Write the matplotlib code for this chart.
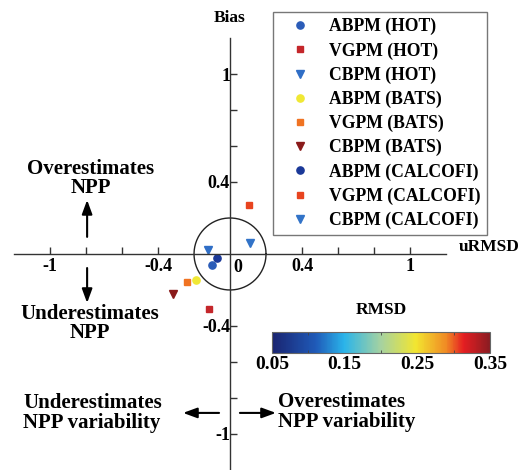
import matplotlib
matplotlib.use('Agg')
import matplotlib.pyplot as plt
import numpy as np
from matplotlib.colors import LinearSegmentedColormap, Normalize
from matplotlib.ticker import FixedLocator, FuncFormatter

plt.rcParams['font.family'] = ['Liberation Serif', 'DejaVu Serif']
plt.rcParams['font.weight'] = 'bold'

# * data (uRMSD, Bias)
labels = ['ABPM (HOT)', 'VGPM (HOT)', 'CBPM (HOT)',
          'ABPM (BATS)', 'VGPM (BATS)', 'CBPM (BATS)',
          'ABPM (CALCOFI)', 'VGPM (CALCOFI)', 'CBPM (CALCOFI)']
urmsd = [-0.098, -0.115, -0.120, -0.190, -0.237, -0.315, -0.074, 0.106, 0.110]
bias = [-0.061, -0.307, 0.020, -0.146, -0.154, -0.222, -0.024, 0.274, 0.060]
markers = ['o', 's', 'v', 'o', 's', 'v', 'o', 's', 'v']
colors = ['#2b5cb8', '#c4262a', '#2f6ec6', '#f0e834', '#f07322', '#8a1a1a',
          '#1a3898', '#e8441f', '#3273c8']

cbar_ticks = [0.05, 0.15, 0.25, 0.35]
x_ticks = [-1, -0.8, -0.6, -0.4, 0.4, 0.6, 0.8, 1]
y_ticks = [-1, -0.8, -0.6, -0.4, 0.4, 0.6, 0.8, 1]
labeled = [-1, -0.4, 0.4, 1]

cmap = LinearSegmentedColormap.from_list('rmsd', [
  (0.0, '#1a2470'), (0.2, '#1f5ab8'), (0.33, '#2ab4ea'), (0.5, '#a6d2a0'),
  (0.66, '#f2e630'), (0.8, '#f08a24'), (0.88, '#e51e22'), (1.0, '#8a1c22')])

fig = plt.figure(figsize=(5.27, 4.70), dpi=100)
ax = fig.add_axes([0, 0, 1, 1])
ax.set_xlim(-1.278, 1.65)
ax.set_ylim(-1.2, 1.411)
ax.set_aspect('equal')

# * axes through origin
for s in ['top', 'right']:
  ax.spines[s].set_visible(False)
ax.spines['left'].set_position('zero')
ax.spines['bottom'].set_position('zero')
ax.spines['left'].set_bounds(-1.2, 1.2)
ax.spines['bottom'].set_bounds(-1.2, 1.2)
for s in ['left', 'bottom']:
  ax.spines[s].set_color('#333333')
  ax.spines[s].set_linewidth(1.0)

ax.xaxis.set_major_locator(FixedLocator(x_ticks))
ax.yaxis.set_major_locator(FixedLocator(y_ticks))
fmt = lambda v, p: ('%g' % v) if round(v, 2) in labeled else ''
ax.xaxis.set_major_formatter(FuncFormatter(fmt))
ax.yaxis.set_major_formatter(FuncFormatter(fmt))
ax.tick_params(direction='in', length=5, width=1, color='#333333', labelsize=13)
ax.tick_params(axis='x', pad=3)
ax.tick_params(axis='y', pad=0)
ax.text(0.045, -0.03, '0', ha='center', va='top', fontsize=13, fontweight='bold')

ax.text(0, 1.31, 'Bias', ha='center', va='center', fontsize=12.5, fontweight='bold')
ax.text(1.27, 0.04, 'uRMSD', ha='left', va='center', fontsize=12.5, fontweight='bold')

# * circle
t = np.linspace(0, 2 * np.pi, 200)
ax.plot(0.2 * np.cos(t), 0.2 * np.sin(t), color='#222222', lw=1.0)

# * points
for i in range(len(labels)):
  ms = 6 if markers[i] == 'v' else (5.2 if markers[i] == 'o' else 4.6)
  ax.plot(urmsd[i], bias[i], marker=markers[i], color=colors[i], ms=ms,
    linestyle='none', label=labels[i])

leg = ax.legend(loc='upper left', bbox_to_anchor=(273 / 527, 1 - 12 / 470),
  bbox_transform=fig.transFigure, frameon=True, fancybox=False,
  prop={'family': 'Liberation Serif', 'weight': 'bold', 'size': 12.7},
  labelspacing=0.39, handletextpad=0.45, borderpad=0.35, handlelength=2.4,
  borderaxespad=0)
leg.get_frame().set_edgecolor('#555555')
leg.get_frame().set_linewidth(1.0)

# * annotations
afs = 15
ax.text(-0.775, 0.42, 'Overestimates\nNPP', ha='center', va='center',
  fontsize=afs, fontweight='bold', linespacing=0.95)
ax.text(-0.778, -0.385, 'Underestimates\nNPP', ha='center', va='center',
  fontsize=afs, fontweight='bold', linespacing=0.95)
ax.text(-1.15, -0.883, 'Underestimates\nNPP variability', ha='left', va='center',
  fontsize=afs, fontweight='bold', linespacing=0.95)
ax.text(0.267, -0.878, 'Overestimates\nNPP variability', ha='left', va='center',
  fontsize=afs, fontweight='bold', linespacing=0.95)
arw = dict(arrowstyle='-|>,head_length=0.6,head_width=0.22', color='black',
  lw=1.5, mutation_scale=14, shrinkA=0, shrinkB=0)
ax.annotate('', xy=(-0.794, 0.30), xytext=(-0.794, 0.095), arrowprops=arw)
ax.annotate('', xy=(-0.794, -0.272), xytext=(-0.794, -0.078), arrowprops=arw)
ax.annotate('', xy=(-0.261, -0.883), xytext=(-0.061, -0.883), arrowprops=arw)
ax.annotate('', xy=(0.255, -0.883), xytext=(0.055, -0.883), arrowprops=arw)

# * colorbar
cax = fig.add_axes([272 / 527, 1 - 353 / 470, 218 / 527, 21 / 470])
sm = plt.cm.ScalarMappable(norm=Normalize(0.05, 0.35), cmap=cmap)
cb = fig.colorbar(sm, cax=cax, orientation='horizontal')
cb.set_ticks(cbar_ticks)
cb.ax.xaxis.set_minor_locator(FixedLocator([0.1, 0.15, 0.2, 0.25, 0.3]))
cb.ax.tick_params(which='major', length=0, labelsize=14, pad=2)
cb.ax.tick_params(which='minor', direction='in', length=2, top=True, color='#444444')
cb.outline.set_edgecolor('#666666')
cb.outline.set_linewidth(0.8)
for lbl in cb.ax.get_xticklabels():
  lbl.set_fontweight('bold')
fig.text(381 / 527, 1 - 310 / 470, 'RMSD', ha='center', va='center',
  fontsize=12.5, fontweight='bold')

fig.savefig('out.png', dpi=100)
